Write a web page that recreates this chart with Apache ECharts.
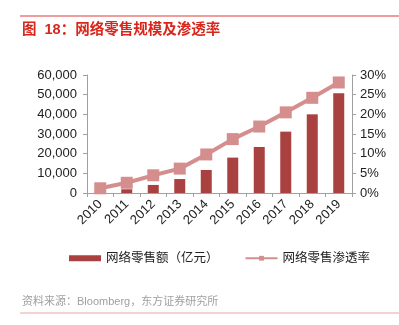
<!DOCTYPE html>
<html><head><meta charset="utf-8">
<script src="https://cdn.jsdelivr.net/npm/echarts@6/dist/echarts.min.js"></script>
<style>html,body{margin:0;padding:0;background:#fff;}#c{width:399px;height:325px;}</style>
</head><body><div id="c"></div>
<script>
var categories = ['2010','2011','2012','2013','2014','2015','2016','2017','2018','2019'];
var salesValues = [800, 1900, 4100, 7100, 11700, 18000, 23400, 31200, 40000, 50700];
var penetrationValues = [1.2, 2.6, 4.5, 6.2, 9.8, 13.7, 16.9, 20.5, 24.2, 28.1];
var leftTicks = {min: 0, max: 60000, interval: 10000};
var rightTicks = {min: 0, max: 30, interval: 5};
var FONT = '"Liberation Sans", "Noto Sans CJK SC", sans-serif';
var chart = echarts.init(document.getElementById('c'));
chart.setOption({
  animation: false,
  textStyle: {fontFamily: FONT},
  graphic: [
    {type: 'line', shape: {x1: 20, y1: 16, x2: 399, y2: 16}, style: {stroke: '#e03a3a', lineWidth: 1.2}},
    {type: 'text', left: 22, top: 23, style: {text: '图  18：网络零售规模及渗透率', fill: '#d9261c', font: 'bold 14.5px ' + FONT}},
    {type: 'text', left: 22, top: 296, style: {text: '资料来源：Bloomberg，东方证券研究所', fill: '#a0a0a0', font: '11px ' + FONT}},
    {type: 'line', shape: {x1: 20, y1: 313, x2: 399, y2: 313}, style: {stroke: '#e8a5a5', lineWidth: 1}}
  ],
  grid: {left: 87, right: 47, top: 75, bottom: 132},
  legend: {
    top: 247, left: 64, itemGap: 26,
    itemWidth: 32, itemHeight: 6,
    textStyle: {fontSize: 12.5, color: '#222', fontFamily: FONT},
    data: [
      {name: '网络零售额（亿元）', icon: 'rect', itemStyle: {color: '#a8413f'}},
      {name: '网络零售渗透率'}
    ]
  },
  xAxis: {
    type: 'category', data: categories,
    axisLine: {lineStyle: {color: '#a0a0a0'}},
    axisTick: {show: true, alignWithLabel: false, length: 4, lineStyle: {color: '#a0a0a0'}},
    axisLabel: {rotate: 45, fontSize: 13, color: '#222', margin: 9}
  },
  yAxis: [
    {type: 'value', min: leftTicks.min, max: leftTicks.max, interval: leftTicks.interval,
     splitLine: {show: false},
     axisLine: {show: true, lineStyle: {color: '#a0a0a0'}},
     axisTick: {show: true, length: 4, lineStyle: {color: '#a0a0a0'}},
     axisLabel: {fontSize: 13, color: '#222', margin: 10,
       formatter: function (v) { return v.toLocaleString('en-US'); }}},
    {type: 'value', min: rightTicks.min, max: rightTicks.max, interval: rightTicks.interval,
     position: 'right', splitLine: {show: false},
     axisLine: {show: true, lineStyle: {color: '#a0a0a0'}},
     axisTick: {show: true, length: 4, lineStyle: {color: '#a0a0a0'}},
     axisLabel: {fontSize: 13, color: '#222', margin: 8, formatter: '{value}%'}}
  ],
  series: [
    {name: '网络零售额（亿元）', type: 'bar', data: salesValues, barWidth: 11,
     itemStyle: {color: '#a8413f'}},
    {name: '网络零售渗透率', type: 'line', yAxisIndex: 1, data: penetrationValues,
     symbol: 'rect', symbolSize: 12,
     lineStyle: {color: '#d58e8e', width: 4},
     itemStyle: {color: '#d58e8e'}}
  ]
});
</script></body></html>
